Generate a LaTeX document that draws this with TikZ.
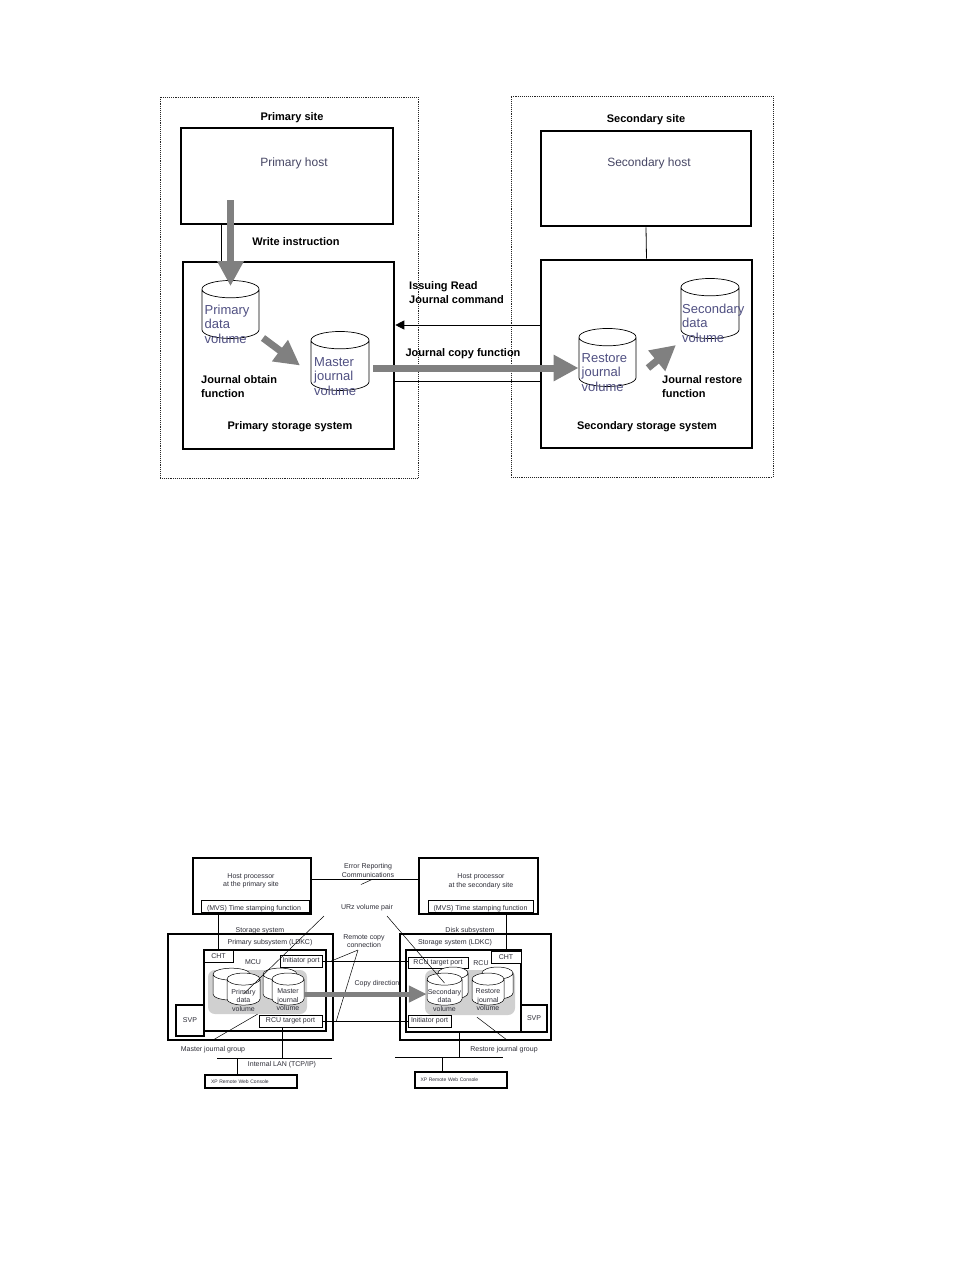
\documentclass[tikz,border=0pt]{standalone}
\usepackage{fontspec}
\setmainfont{Liberation Sans}
\usetikzlibrary{positioning, arrows.meta, shapes.geometric}
\usepackage{xcolor}
\definecolor{hosttxt}{RGB}{70,70,100}
\definecolor{voltxt}{RGB}{80,80,130}
\definecolor{arrgray}{RGB}{128,128,128}
\definecolor{poolgray}{RGB}{208,208,208}
\definecolor{smalltxt}{RGB}{45,45,55}

\begin{document}
\begin{tikzpicture}[
        x=1pt, y=-1pt,
        sitebox/.style={rectangle, draw=black!85, densely dotted, line width=0.9pt},
        hostbox/.style={rectangle, draw, line width=2.6pt},
        storagebox/.style={rectangle, draw, line width=2.6pt},
        volume/.style={cylinder, shape border rotate=90, aspect=2.6, draw, fill=white, line width=0.7pt},
        voltext/.style={anchor=west, align=left, font=\fontsize{13}{14.5}\selectfont, text=voltxt, inner sep=0pt},
        headtext/.style={font=\fontsize{11}{13}\selectfont\bfseries, inner sep=0pt},
        fattext/.style={font=\fontsize{11}{14}\selectfont\bfseries, align=left, inner sep=0pt, anchor=west},
        hosttext/.style={font=\fontsize{12}{14}\selectfont, text=hosttxt, inner sep=0pt},
        bigarrow/.style={draw=arrgray, line width=7pt, -{Triangle[length=25pt, width=25pt]}},
        thinline/.style={draw, line width=0.8pt},
        % lower picture
        smallbox/.style={rectangle, draw, line width=2pt, fill=white, font=\fontsize{7}{8.5}\selectfont, text=smalltxt},
        outerbox/.style={rectangle, draw, line width=2.5pt},
        portbox/.style={rectangle, draw, line width=0.6pt, fill=white, inner sep=0pt, font=\fontsize{7}{8.5}\selectfont, text=smalltxt},
        small/.style={font=\fontsize{7}{8.5}\selectfont, text=smalltxt, inner sep=0pt},
        minivol/.style={cylinder, shape border rotate=90, aspect=1.8, draw, fill=white, line width=0.5pt},
        pool/.style={rectangle, rounded corners=7pt, fill=poolgray},
        copyarrow/.style={draw=arrgray, line width=5pt, -{Triangle[length=18pt, width=16pt]}},
        consolebox/.style={rectangle, draw, line width=2pt, font=\fontsize{5}{6}\selectfont, text=smalltxt, text width=80pt, align=left, inner xsep=6pt, inner ysep=0pt},
        leader/.style={draw, line width=0.5pt},
        thinline2/.style={draw, line width=0.7pt}
    ]
        \fill[white] (0,0) rectangle (954,1270);
        \useasboundingbox (0,0) rectangle (954,1270);

        % Primary site
        \node[sitebox, minimum width=258pt, minimum height=381pt] (psite) at (289,287.5) {};
        \node[hostbox, minimum width=212pt, minimum height=96pt] (phost) at (287,176) {};
        \node[headtext, above=4pt of phost, xshift=5pt] (psitelbl) {Primary site};
        \node[hosttext] (phostlbl) at (294,163) {Primary host};
        \node[storagebox, minimum width=211pt, minimum height=187pt] (pstor) at (288.5,355.5) {};
        \node[volume, minimum width=57pt, minimum height=58pt] (pdv) at (230.5,316) {};
        \node[voltext] (pdvlbl) at ([shift={(-26,8)}]pdv.center) {Primary\\data\\volume};
        \node[volume, minimum width=58pt, minimum height=59pt] (mjv) at (340,367.5) {};
        \node[voltext] (mjvlbl) at ([shift={(-26,9)}]mjv.center) {Master\\journal\\volume};
        \node[headtext] (write) at (296,242) {Write instruction};
        \node[fattext] (obtain) at (201,387) {Journal obtain\\function};
        \node[headtext] (pstorlbl) at (290,427) {Primary storage system};

        % Secondary site
        \node[sitebox, minimum width=262pt, minimum height=381pt] (ssite) at (642,286.5) {};
        \node[hostbox, minimum width=210pt, minimum height=95pt] (shost) at (646,178.5) {};
        \node[headtext, above=5pt of shost] (ssitelbl) {Secondary site};
        \node[hosttext] (shostlbl) at (649,163) {Secondary host};
        \node[storagebox, minimum width=211pt, minimum height=188pt] (sstor) at (646.5,354) {};
        \node[volume, minimum width=57pt, minimum height=58pt] (rjv) at (607.5,364) {};
        \node[voltext] (rjvlbl) at ([shift={(-26,8.5)}]rjv.center) {Restore\\journal\\volume};
        \node[volume, minimum width=58pt, minimum height=60pt] (sdv) at (710,315) {};
        \node[voltext] (sdvlbl) at ([shift={(-28,8)}]sdv.center) {Secondary\\data\\volume};
        \node[fattext] (restore) at (662,387) {Journal restore\\function};
        \node[headtext] (sstorlbl) at (647,427) {Secondary storage system};

        % Between the sites
        \node[fattext] (issue) at (409,293) {Issuing Read\\Journal command};
        \node[headtext] (copyfn) at (463,354) {Journal copy function};

        % Connections
        \coordinate (wr) at ([xshift=-9pt]pdv.north);
        \draw[thinline] (wr |- phost.south) -- (wr |- pstor.north);
        \coordinate (wa) at (pdv.north |- phost.center);
        \draw[bigarrow] ([shift={(0,24)}]wa) -- ([shift={(0,6)}]pdv.north);
        \draw[bigarrow] ([shift={(32.5,22)}]pdv.center) -- ([shift={(-40,-2)}]mjv.center);
        \coordinate (rd) at ([shift={(0,-29)}]sstor.west);
        \draw[thinline, -{Triangle[length=9pt, width=9pt]}] (rd) -- (rd -| pstor.east);
        \coordinate (cl) at ([shift={(0,27)}]sstor.west);
        \draw[thinline] (cl) -- (cl -| pstor.east);
        \draw[bigarrow] ([shift={(33,0.5)}]mjv.center) -- ([shift={(-29,4)}]rjv.center);
        \draw[bigarrow] ([shift={(40.5,4)}]rjv.center) -- ([shift={(-34,30)}]sdv.center);
        \draw[thinline] (shost.south) -- (sstor.north);

        % Hosts (lower picture)
        \node[smallbox, minimum width=118pt, minimum height=56pt] (php) at (252,886) {};
        \node[small, align=center] (phplbl) at (251,881) {Host processor\\at the primary site};
        \node[portbox, minimum width=108pt, minimum height=12pt] (pmvs) at (255,906) {};
        \node[small] (pmvslbl) at (254,908.5) {(MVS) Time stamping function};
        \node[smallbox, minimum width=119pt, minimum height=56pt] (shp) at (478.5,886) {};
        \node[small, align=center] (shplbl) at (481,881.5) {Host processor\\at the secondary site};
        \node[portbox, minimum width=105pt, minimum height=12pt] (smvs) at (480.5,906) {};
        \node[small] (smvslbl) at (480.5,908.5) {(MVS) Time stamping function};
        \node[small, align=center] (errlbl) at (368,870.5) {Error Reporting\\Communications};
        \coordinate (er) at ([shift={(0,-7)}]php.east);
        \draw[leader] (er) -- (er -| shp.west);
        \draw[leader] ([shift={(4,9)}]errlbl.center) -- ([shift={(-7,14)}]errlbl.center);
        \node[small] (urz) at (367,908) {URz volume pair};

        % Primary storage system (lower picture)
        \node[small] (pstorlbl2) at (260,931) {Storage system};
        \node[outerbox, minimum width=165pt, minimum height=106pt] (pss) at (250.5,987) {};
        \node[small] (pldkc) at (270,943) {Primary subsystem (LDKC)};
        \node[smallbox, minimum width=122pt, minimum height=81pt] (mcu) at (265,990.5) {};
        \node[portbox, minimum width=29pt, minimum height=12pt] (cht1) at (218.5,956) {CHT};
        \node[small] (mculbl) at (253,962) {MCU};
        \node[portbox, minimum width=42pt, minimum height=12pt] (ip1) at (301,961) {Initiator port};
        \node[pool, minimum width=99pt, minimum height=44pt] (pool1) at (257.5,992) {};
        \node[minivol, minimum width=37pt, minimum height=32pt] (pdv2b) at (231.5,989) {};
        \node[minivol, minimum width=33pt, minimum height=32pt] (pdv2) at (243.5,994) {};
        \node[small, align=center] (pdv2lbl) at ([shift={(0,6)}]pdv2.center) {Primary\\data\\volume};
        \node[minivol, minimum width=34pt, minimum height=32pt] (mjv2b) at (280,989) {};
        \node[minivol, minimum width=32pt, minimum height=32pt] (mjv2) at (288,994) {};
        \node[small, align=center] (mjv2lbl) at ([shift={(0,6)}]mjv2.center) {Master\\journal\\volume};
        \node[portbox, minimum width=63pt, minimum height=12pt] (rtp1) at (290.5,1021) {RCU target port};
        \node[smallbox, minimum width=28pt, minimum height=31pt] (svp1) at (190,1020.5) {SVP};

        % Secondary storage system (lower picture)
        \node[small] (disklbl) at (470,931) {Disk subsystem};
        \node[outerbox, minimum width=151pt, minimum height=106pt] (sss) at (475.5,987) {};
        \node[small] (sldkc) at (455,942.5) {Storage system (LDKC)};
        \node[smallbox, minimum width=115pt, minimum height=82pt] (rcu) at (463.5,991) {};
        \node[portbox, minimum width=30pt, minimum height=12pt] (cht2) at (506,957) {CHT};
        \node[small] (rculbl) at (481,963) {RCU};
        \node[portbox, minimum width=60pt, minimum height=11pt] (rtp2) at (438,962.5) {RCU target port};
        \node[pool, minimum width=90pt, minimum height=45pt] (pool2) at (470,992.5) {};
        \node[minivol, minimum width=30pt, minimum height=32pt] (sdv2b) at (453,988) {};
        \node[minivol, minimum width=35pt, minimum height=32pt] (sdv2) at (444.5,994) {};
        \node[small, align=center] (sdv2lbl) at ([shift={(0,6)}]sdv2.center) {Secondary\\data\\volume};
        \node[minivol, minimum width=31pt, minimum height=32pt] (rjv2b) at (497.5,988) {};
        \node[minivol, minimum width=32pt, minimum height=32pt] (rjv2) at (488,994) {};
        \node[small, align=center] (rjv2lbl) at ([shift={(0,6)}]rjv2.center) {Restore\\journal\\volume};
        \node[portbox, minimum width=43pt, minimum height=12pt] (ip2) at (429.5,1021) {Initiator port};
        \node[smallbox, minimum width=26pt, minimum height=27pt] (svp2) at (534,1018.5) {SVP};

        % Links (lower picture)
        \draw[thinline2] (cht1.north) -- (cht1.north |- php.south);
        \draw[thinline2] (cht2.north) -- (cht2.north |- smvs.south);
        \draw[thinline2] (ip1.east) -- (ip1.east -| rtp2.west);
        \draw[thinline2] (rtp1.east) -- (rtp1.east -| ip2.west);
        \node[small, align=center] (rcc) at (364,941) {Remote copy\\connection};
        \draw[leader] ([shift={(-6,9)}]rcc.center) -- ([shift={(9,0)}]ip1.east);
        \draw[leader] ([shift={(-6,9)}]rcc.center) -- ([shift={(14,0)}]rtp1.east);
        \node[small] (copydir) at (377,984) {Copy direction};
        \draw[copyarrow] (mjv2.east) -- (sdv2.west);
        \draw[leader] ([shift={(-43,8)}]urz.center) -- (pdv2.center);
        \draw[leader] ([shift={(20,8)}]urz.center) -- ([shift={(0,-11)}]sdv2.center);

        % LAN and consoles
        \node[small] (mjg) at (213,1050) {Master journal group};
        \draw[leader] ([shift={(0,-10)}]mjg.center) -- (pool1.south);
        \coordinate (lan1w) at (217,1058);
        \coordinate (lan1e) at (332,1058);
        \draw[thinline2] (lan1w) -- (lan1e);
        \coordinate (l1) at ([xshift=-8.5pt]rtp1.south);
        \draw[thinline2] (l1) -- (l1 |- lan1w);
        \node[small] (lanlbl) at (282,1065) {Internal LAN (TCP/IP)};
        \node[consolebox, minimum width=92pt, minimum height=13pt] (con1) at (251,1081.5) {XP Remote Web Console};
        \coordinate (c1) at ([xshift=-14pt]con1.north);
        \draw[thinline2] (c1) -- (c1 |- lan1w);

        \node[small] (rjg) at (504,1050) {Restore journal group};
        \draw[leader] ([shift={(7,2)}]pool2.south) -- ([shift={(3,-10)}]rjg.center);
        \coordinate (lan2w) at (395,1057);
        \coordinate (lan2e) at (503,1057);
        \draw[thinline2, line width=1pt] (lan2w) -- (lan2e);
        \coordinate (l2) at ([xshift=-4.5pt]rcu.south);
        \draw[thinline2] (l2) -- (l2 |- lan2w);
        \node[consolebox, minimum width=91pt, minimum height=16pt] (con2) at (460.5,1080) {XP Remote Web Console};
        \coordinate (c2) at ([xshift=-18.5pt]con2.north);
        \draw[thinline2] (c2) -- (c2 |- lan2w);
    \end{tikzpicture}
\end{document}
